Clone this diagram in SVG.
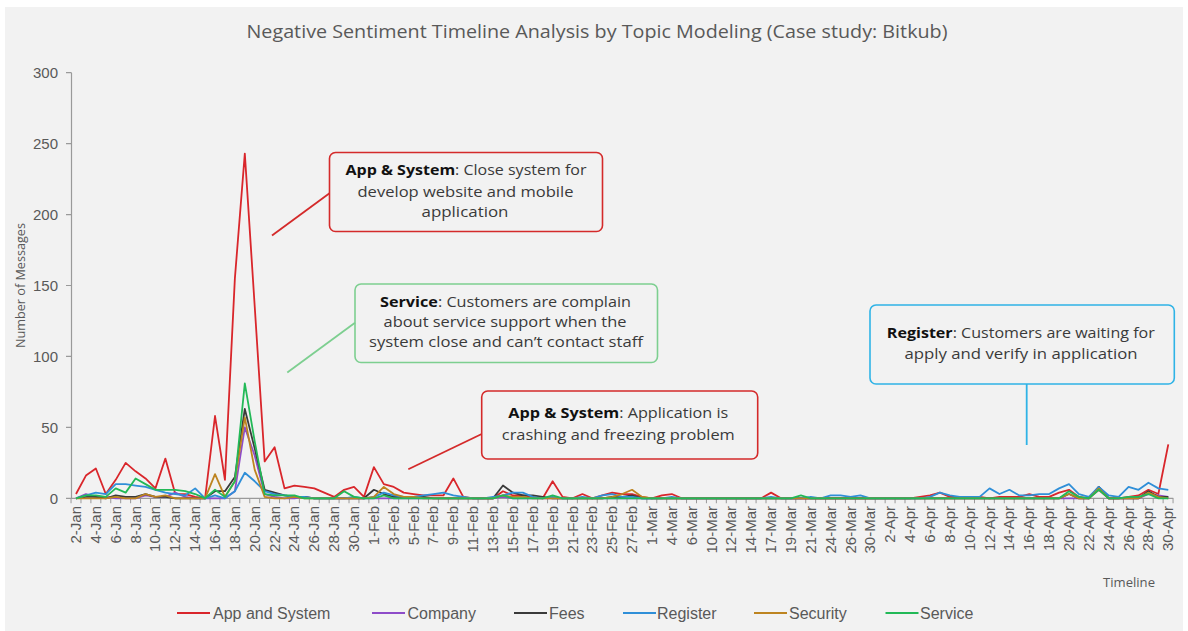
<svg xmlns="http://www.w3.org/2000/svg" width="1188" height="631" viewBox="0 0 1188 631">
<style>
.bg{fill:#f2f2f2}
.axis{stroke:#9a9a9a;stroke-width:1.2;fill:none}
.ylab{font-family:"Liberation Sans",Arial,sans-serif;font-size:15px;fill:#595959;text-anchor:end}
.xlab{font-family:"Liberation Sans",Arial,sans-serif;font-size:15px;fill:#595959;text-anchor:end}
.leg{font-family:"Liberation Sans",Arial,sans-serif;font-size:16px;fill:#595959}
.ser{fill:none;stroke-width:1.8;stroke-linejoin:round;vector-effect:non-scaling-stroke}
.note{font-family:"Open Sans","Noto Sans",sans-serif;font-size:15px;fill:#3a3a3a;text-anchor:middle}
.note tspan.b{font-weight:bold;fill:#111}
.box{fill:none;stroke-width:1.6}
.con{fill:none;stroke-width:1.8}
.red{stroke:#d42a2a}
.grn{stroke:#7dcf90}
.blu{stroke:#2fb3e6}
</style>
<rect width="1188" height="631" fill="#ffffff"/>
<rect class="bg" x="5" y="7" width="1178" height="624"/>
<text x="597" y="38" font-family="Open Sans, Noto Sans, sans-serif" font-size="19" fill="#595959" text-anchor="middle" textLength="701" lengthAdjust="spacingAndGlyphs">Negative Sentiment Timeline Analysis by Topic Modeling (Case study: Bitkub)</text>

<!-- axes -->
<g id="axes">
<line class="axis" x1="71.5" y1="72.7" x2="71.5" y2="498.3"/>
<line class="axis" x1="71" y1="498.3" x2="1173.3" y2="498.3"/>
<path class="axis" d="M66 72.7H71.5M66 143.6H71.5M66 214.6H71.5M66 285.5H71.5M66 356.4H71.5M66 427.4H71.5M66 498.3H71.5"/>
<line x1="70.54" y1="500.8" x2="1174" y2="500.8" stroke="#9a9a9a" stroke-width="5" stroke-dasharray="1 8.928"/>
<text class="ylab" x="58" y="78.2">300</text>
<text class="ylab" x="58" y="149.1">250</text>
<text class="ylab" x="58" y="220.1">200</text>
<text class="ylab" x="58" y="291">150</text>
<text class="ylab" x="58" y="361.9">100</text>
<text class="ylab" x="58" y="432.9">50</text>
<text class="ylab" x="58" y="503.8">0</text>
<text transform="translate(24.5,285.5) rotate(-90)" font-family="Open Sans, Noto Sans, sans-serif" font-size="13" fill="#595959" text-anchor="middle" textLength="125" lengthAdjust="spacingAndGlyphs">Number of Messages</text>
<text x="1129" y="587" font-family="Open Sans, Noto Sans, sans-serif" font-size="13" fill="#595959" text-anchor="middle" textLength="52" lengthAdjust="spacingAndGlyphs">Timeline</text>
</g>

<g id="xlabels">
<text class="xlab" transform="translate(81,506) rotate(-90)">2-Jan</text>
<text class="xlab" transform="translate(100.86,506) rotate(-90)">4-Jan</text>
<text class="xlab" transform="translate(120.72,506) rotate(-90)">6-Jan</text>
<text class="xlab" transform="translate(140.58,506) rotate(-90)">8-Jan</text>
<text class="xlab" transform="translate(160.44,506) rotate(-90)">10-Jan</text>
<text class="xlab" transform="translate(180.3,506) rotate(-90)">12-Jan</text>
<text class="xlab" transform="translate(200.16,506) rotate(-90)">14-Jan</text>
<text class="xlab" transform="translate(220.02,506) rotate(-90)">16-Jan</text>
<text class="xlab" transform="translate(239.88,506) rotate(-90)">18-Jan</text>
<text class="xlab" transform="translate(259.74,506) rotate(-90)">20-Jan</text>
<text class="xlab" transform="translate(279.6,506) rotate(-90)">22-Jan</text>
<text class="xlab" transform="translate(299.46,506) rotate(-90)">24-Jan</text>
<text class="xlab" transform="translate(319.32,506) rotate(-90)">26-Jan</text>
<text class="xlab" transform="translate(339.18,506) rotate(-90)">28-Jan</text>
<text class="xlab" transform="translate(359.04,506) rotate(-90)">30-Jan</text>
<text class="xlab" transform="translate(378.9,506) rotate(-90)">1-Feb</text>
<text class="xlab" transform="translate(398.76,506) rotate(-90)">3-Feb</text>
<text class="xlab" transform="translate(418.62,506) rotate(-90)">5-Feb</text>
<text class="xlab" transform="translate(438.48,506) rotate(-90)">7-Feb</text>
<text class="xlab" transform="translate(458.34,506) rotate(-90)">9-Feb</text>
<text class="xlab" transform="translate(478.2,506) rotate(-90)">11-Feb</text>
<text class="xlab" transform="translate(498.06,506) rotate(-90)">13-Feb</text>
<text class="xlab" transform="translate(517.92,506) rotate(-90)">15-Feb</text>
<text class="xlab" transform="translate(537.78,506) rotate(-90)">17-Feb</text>
<text class="xlab" transform="translate(557.64,506) rotate(-90)">19-Feb</text>
<text class="xlab" transform="translate(577.5,506) rotate(-90)">21-Feb</text>
<text class="xlab" transform="translate(597.36,506) rotate(-90)">23-Feb</text>
<text class="xlab" transform="translate(617.22,506) rotate(-90)">25-Feb</text>
<text class="xlab" transform="translate(637.08,506) rotate(-90)">27-Feb</text>
<text class="xlab" transform="translate(656.94,506) rotate(-90)">1-Mar</text>
<text class="xlab" transform="translate(676.8,506) rotate(-90)">4-Mar</text>
<text class="xlab" transform="translate(696.66,506) rotate(-90)">6-Mar</text>
<text class="xlab" transform="translate(716.52,506) rotate(-90)">10-Mar</text>
<text class="xlab" transform="translate(736.38,506) rotate(-90)">12-Mar</text>
<text class="xlab" transform="translate(756.24,506) rotate(-90)">14-Mar</text>
<text class="xlab" transform="translate(776.1,506) rotate(-90)">17-Mar</text>
<text class="xlab" transform="translate(795.96,506) rotate(-90)">19-Mar</text>
<text class="xlab" transform="translate(815.82,506) rotate(-90)">21-Mar</text>
<text class="xlab" transform="translate(835.68,506) rotate(-90)">24-Mar</text>
<text class="xlab" transform="translate(855.54,506) rotate(-90)">26-Mar</text>
<text class="xlab" transform="translate(875.4,506) rotate(-90)">30-Mar</text>
<text class="xlab" transform="translate(895.26,506) rotate(-90)">2-Apr</text>
<text class="xlab" transform="translate(915.12,506) rotate(-90)">4-Apr</text>
<text class="xlab" transform="translate(934.98,506) rotate(-90)">6-Apr</text>
<text class="xlab" transform="translate(954.84,506) rotate(-90)">8-Apr</text>
<text class="xlab" transform="translate(974.7,506) rotate(-90)">10-Apr</text>
<text class="xlab" transform="translate(994.56,506) rotate(-90)">12-Apr</text>
<text class="xlab" transform="translate(1014.42,506) rotate(-90)">14-Apr</text>
<text class="xlab" transform="translate(1034.28,506) rotate(-90)">16-Apr</text>
<text class="xlab" transform="translate(1054.14,506) rotate(-90)">18-Apr</text>
<text class="xlab" transform="translate(1074,506) rotate(-90)">20-Apr</text>
<text class="xlab" transform="translate(1093.86,506) rotate(-90)">22-Apr</text>
<text class="xlab" transform="translate(1113.72,506) rotate(-90)">24-Apr</text>
<text class="xlab" transform="translate(1133.58,506) rotate(-90)">26-Apr</text>
<text class="xlab" transform="translate(1153.44,506) rotate(-90)">28-Apr</text>
<text class="xlab" transform="translate(1173.3,506) rotate(-90)">30-Apr</text>
</g>

<!-- data series (x = day index, y = messages) -->
<g id="series" transform="translate(76,498.3) scale(9.93,-1.4187)">
<polyline class="ser" stroke="#d9262b" points="0,3 1,16 2,21 3,3 4,13 5,25 6,19 7,14 8,7 9,28 10,3 11,3 12,1 13,0 14,58 15,13 16,155 17,243 18,135 19,26 20,36 21,7 22,9 23,8 24,7 25,4 26,1 27,6 28,8 29,1 30,22 31,10 32,8 33,4 34,3 35,2 36,2 37,2 38,14 39,1 40,0 42,0 43,5 44,2 45,2 46,1 47,0 48,12 49,1 50,0 51,3 52,0 53,2 54,4 55,3 56,3 57,1 58,0 59,2 60,3 61,0 69,0 70,4 71,0 84,0 85,1 86,2 87,4 88,1 89,1 90,1 91,1 92,0 93,1 94,1 95,1 96,3 97,1 98,1 99,4 100,6 101,1 102,0 103,6 104,0 105,0 106,1 107,2 108,6 109,3 110,38"/>
<polyline class="ser" stroke="#8e4cc9" points="0,0 1,3 2,1 3,1 4,0 6,0 7,2 8,1 9,1 10,4 11,1 12,0 15,0 16,5 17,50 18,30 19,3 20,1 21,0 22,0 23,1 24,0 42,0 43,1 44,0 102,0 103,8 104,0 107,0 108,3 109,2 110,1"/>
<polyline class="ser" stroke="#3a3a3a" points="0,0 1,1 2,1 3,0 4,2 5,1 6,1 7,3 8,1 9,1 10,0 13,0 14,5 15,5 16,15 17,63 18,35 19,6 20,4 21,2 22,1 23,1 24,0 29,0 30,6 31,3 32,1 35,1 36,0 42,0 43,9 44,4 45,2 46,2 47,1 48,0 53,0 54,1 55,1 56,2 57,0 99,0 100,3 101,0 102,0 103,8 104,0 107,0 108,5 109,1 110,1"/>
<polyline class="ser" stroke="#2f8fd8" points="0,0 1,2 2,4 3,3 4,10 5,10 6,9 7,8 8,6 9,4 10,3 11,2 12,7 13,0 14,2 15,0 16,5 17,18 18,12 19,5 20,3 21,2 22,1 23,1 24,0 27,0 28,1 29,0 30,1 31,4 32,2 33,1 34,1 35,2 36,3 37,4 38,2 39,1 40,0 41,0 42,1 43,2 44,4 45,4 46,1 47,0 48,1 49,0 50,0 51,1 52,0 53,2 54,3 55,1 56,1 57,0 59,0 60,1 61,0 69,0 70,1 71,0 73,0 74,1 75,0 76,2 77,2 78,1 79,2 80,0 85,0 86,1 87,4 88,2 89,1 90,1 91,1 92,7 93,3 94,6 95,2 96,2 97,3 98,3 99,7 100,10 101,3 102,1 103,8 104,2 105,1 106,8 107,6 108,11 109,7 110,6"/>
<polyline class="ser" stroke="#bd8420" points="0,0 3,0 4,1 5,0 6,0 7,3 8,1 9,2 10,0 13,0 14,17 15,1 16,12 17,57 18,20 19,1 20,0 21,0 22,1 23,0 29,0 30,1 31,8 32,3 33,1 34,1 35,0 42,0 43,2 44,1 45,1 46,0 53,0 54,1 55,3 56,6 57,1 58,0 99,0 100,3 101,0 102,0 103,7 104,0 107,0 108,4 109,1 110,0"/>
<polyline class="ser" stroke="#22b957" points="0,0 1,2 2,2 3,1 4,7 5,4 6,14 7,10 8,6 9,6 10,6 11,5 12,3 13,0 14,6 15,1 16,12 17,81 18,40 19,3 20,2 21,2 22,2 23,0 26,0 27,5 28,1 29,0 30,0 31,2 32,0 42,0 43,2 44,0 47,0 48,2 49,0 72,0 73,2 74,0 99,0 100,5 101,1 102,0 103,6 104,0 105,0 106,1 107,1 108,3 109,0 110,0"/>
</g>

<!-- legend -->
<g id="legend">
<line x1="177" y1="613" x2="210" y2="613" stroke="#d9262b" stroke-width="2"/>
<text class="leg" x="213" y="619">App and System</text>
<line x1="372" y1="613" x2="405" y2="613" stroke="#8e4cc9" stroke-width="2"/>
<text class="leg" x="407.5" y="619">Company</text>
<line x1="514" y1="613" x2="547" y2="613" stroke="#3a3a3a" stroke-width="2"/>
<text class="leg" x="549" y="619">Fees</text>
<line x1="623" y1="613" x2="656" y2="613" stroke="#2f8fd8" stroke-width="2"/>
<text class="leg" x="657" y="619">Register</text>
<line x1="754" y1="613" x2="787" y2="613" stroke="#bd8420" stroke-width="2"/>
<text class="leg" x="789" y="619">Security</text>
<line x1="885.5" y1="613" x2="918.5" y2="613" stroke="#22b957" stroke-width="2"/>
<text class="leg" x="920" y="619">Service</text>
</g>

<!-- connectors -->
<g id="connectors">
<line class="con red" x1="272" y1="235.5" x2="329.5" y2="193.3"/>
<line class="con grn" x1="287.3" y1="372.5" x2="355" y2="322.7"/>
<line class="con red" x1="408.3" y1="469.3" x2="481.7" y2="434"/>
<line class="con blu" x1="1026.7" y1="384" x2="1026.7" y2="445"/>
</g>

<g id="note-app-close">
<rect class="box red" x="329.5" y="152.5" width="273" height="79" rx="6"/>
<text class="note" x="466" y="175" textLength="241" lengthAdjust="spacingAndGlyphs"><tspan class="b">App &amp; System</tspan>: Close system for</text>
<text class="note" x="465.5" y="196.5" textLength="216" lengthAdjust="spacingAndGlyphs">develop website and mobile</text>
<text class="note" x="465" y="216.5" textLength="87" lengthAdjust="spacingAndGlyphs">application</text>
</g>

<g id="note-service">
<rect class="box grn" x="355" y="284" width="302.5" height="78.5" rx="6"/>
<text class="note" x="505.5" y="306.7" textLength="251" lengthAdjust="spacingAndGlyphs"><tspan class="b">Service</tspan>: Customers are complain</text>
<text class="note" x="505" y="327.3" textLength="243" lengthAdjust="spacingAndGlyphs">about service support when the</text>
<text class="note" x="506" y="347" textLength="274" lengthAdjust="spacingAndGlyphs">system close and can’t contact staff</text>
</g>

<g id="note-app-crash">
<rect class="box red" x="481.7" y="391" width="276" height="68" rx="6"/>
<text class="note" x="618.3" y="418.3" textLength="220" lengthAdjust="spacingAndGlyphs"><tspan class="b">App &amp; System</tspan>: Application is</text>
<text class="note" x="618.3" y="440" textLength="233" lengthAdjust="spacingAndGlyphs">crashing and freezing problem</text>
</g>

<g id="note-register">
<rect class="box blu" x="870" y="305" width="304.3" height="79" rx="6"/>
<text class="note" x="1020.8" y="338.3" textLength="268" lengthAdjust="spacingAndGlyphs"><tspan class="b">Register</tspan>: Customers are waiting for</text>
<text class="note" x="1021" y="359" textLength="233" lengthAdjust="spacingAndGlyphs">apply and verify in application</text>
</g>
</svg>
